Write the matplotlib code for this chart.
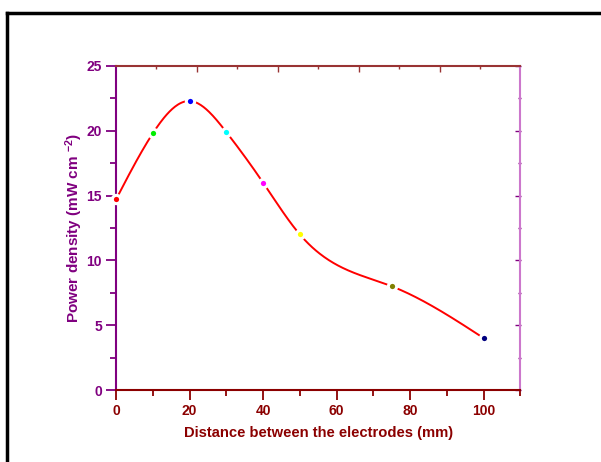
import numpy as np
import matplotlib
matplotlib.use("Agg")
import matplotlib.pyplot as plt
from matplotlib.lines import Line2D
from matplotlib.ticker import MultipleLocator, FixedLocator

plt.rcParams["font.family"] = ["Liberation Sans", "DejaVu Sans"]
plt.rcParams["font.weight"] = "bold"
plt.rcParams["mathtext.fontset"] = "custom"
plt.rcParams["mathtext.rm"] = "Liberation Sans:bold"
plt.rcParams["mathtext.it"] = "Liberation Sans:bold"
plt.rcParams["mathtext.bf"] = "Liberation Sans:bold"

# measured points
distance = [0, 10, 20, 30, 40, 50, 75, 100]
power = [14.7, 19.8, 22.3, 19.9, 16.0, 12.0, 8.0, 4.0]
point_colors = ["#ff0000", "#00ee00", "#0000ff", "#00ffff",
                "#ff00ff", "#ffff00", "#808000", "#000080"]

PURPLE = "#800080"
DARKRED = "#8b0000"


def natural_spline(x, y, xs):
    x = np.asarray(x, float)
    y = np.asarray(y, float)
    n = len(x)
    h = np.diff(x)
    A = np.zeros((n, n))
    b = np.zeros(n)
    A[0, 0] = A[-1, -1] = 1
    for i in range(1, n - 1):
        A[i, i - 1] = h[i - 1]
        A[i, i] = 2 * (h[i - 1] + h[i])
        A[i, i + 1] = h[i]
        b[i] = 3 * ((y[i + 1] - y[i]) / h[i] - (y[i] - y[i - 1]) / h[i - 1])
    c = np.linalg.solve(A, b)
    idx = np.clip(np.searchsorted(x, xs) - 1, 0, n - 2)
    dx = xs - x[idx]
    bb = (y[idx + 1] - y[idx]) / h[idx] - h[idx] * (2 * c[idx] + c[idx + 1]) / 3
    dd = (c[idx + 1] - c[idx]) / (3 * h[idx])
    return y[idx] + bb * dx + c[idx] * dx ** 2 + dd * dx ** 3


fig = plt.figure(figsize=(6.01, 4.62), dpi=100)
ax = fig.add_axes([116 / 601, 72 / 462, 404.5 / 601, 324 / 462])

xs = np.linspace(0, 100, 400)
ax.plot(xs, natural_spline(distance, power, xs), color="red", lw=1.4, zorder=2)
for xv, yv, c in zip(distance, power, point_colors):
    ax.plot(xv, yv, "o", ms=6, mfc=c, mec="white", mew=2.2, zorder=3, clip_on=False)

ax.set_xlim(0, 110)
ax.set_ylim(0, 25)

ax.xaxis.set_major_locator(MultipleLocator(20))
ax.xaxis.set_minor_locator(MultipleLocator(10))
ax.yaxis.set_major_locator(MultipleLocator(5))
ax.yaxis.set_minor_locator(MultipleLocator(2.5))
ax.set_xticks([0, 20, 40, 60, 80, 100])

ax.spines["left"].set_color(PURPLE)
ax.spines["bottom"].set_color(DARKRED)
ax.spines["top"].set_color("#993333")
ax.spines["right"].set_color("#cc77cc")
for s in ax.spines.values():
    s.set_linewidth(1.5)

ax.tick_params(axis="x", which="major", direction="out", length=7, width=1.3,
               colors=DARKRED, labelsize=10, pad=3)
ax.tick_params(axis="x", which="minor", direction="out", length=4, width=1.3, colors=DARKRED)
ax.tick_params(axis="y", which="major", direction="out", length=7, width=1.3,
               colors=PURPLE, labelsize=10, pad=3)
ax.tick_params(axis="y", which="minor", direction="out", length=4, width=1.3, colors=PURPLE)

top = ax.secondary_xaxis("top")
top.xaxis.set_major_locator(FixedLocator([22, 44, 66, 88]))
top.xaxis.set_minor_locator(FixedLocator([11, 33, 55, 77, 99]))
top.tick_params(which="both", direction="in", colors="#993333", labeltop=False, width=1)
top.tick_params(which="major", length=4)
top.tick_params(which="minor", length=2.5)
top.spines["top"].set_visible(False)

right = ax.secondary_yaxis("right")
right.yaxis.set_major_locator(MultipleLocator(5))
right.yaxis.set_minor_locator(MultipleLocator(2.5))
right.tick_params(which="both", direction="in", colors=PURPLE, labelright=False, width=1)
right.tick_params(which="major", length=4)
right.tick_params(which="minor", length=2.5)
right.spines["right"].set_visible(False)

ax.set_xlabel("Distance between the electrodes (mm)", color=DARKRED,
              fontsize=10.6, fontweight="bold", labelpad=6)
ax.set_ylabel(r"Power density (mW cm $^{-2}$)", color=PURPLE,
              fontsize=11, fontweight="bold", labelpad=1)

# outer frame
fig.add_artist(Line2D([7 / 601, 7 / 601], [0, 1 - 13 / 462], color="black",
                      lw=2.5, transform=fig.transFigure))
fig.add_artist(Line2D([7 / 601, 1], [1 - 13 / 462, 1 - 13 / 462], color="black",
                      lw=2.5, transform=fig.transFigure))

fig.savefig("out.png", dpi=100)
